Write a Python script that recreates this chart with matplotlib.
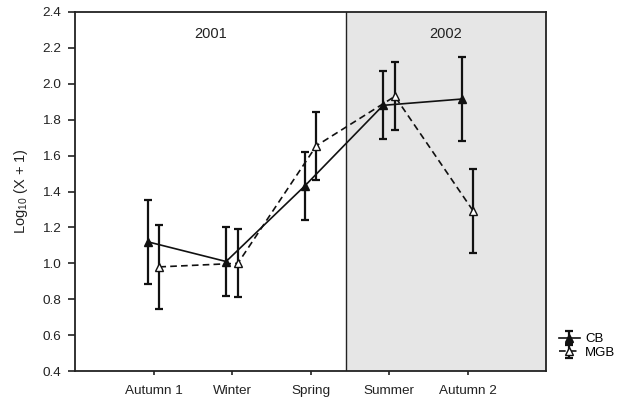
import matplotlib
matplotlib.use("Agg")
import matplotlib.pyplot as plt
from matplotlib.patches import Rectangle
import numpy as np

plt.rcParams['font.family'] = ['Liberation Sans', 'DejaVu Sans']

seasons = ["Autumn 1", "Winter", "Spring", "Summer", "Autumn 2"]
cb_mean = [1.12, 1.01, 1.43, 1.88, 1.915]
cb_err = [0.235, 0.19, 0.19, 0.19, 0.235]
mgb_mean = [0.98, 1.00, 1.655, 1.93, 1.29]
mgb_err = [0.235, 0.19, 0.19, 0.19, 0.235]
year_labels = ["2001", "2002"]
y_ticks = [0.4, 0.6, 0.8, 1.0, 1.2, 1.4, 1.6, 1.8, 2.0, 2.2, 2.4]

fig = plt.figure(figsize=(6.22, 4.01), dpi=100)
ax = fig.add_axes([75 / 622, 30 / 401, 471 / 622, 359 / 401])

x = np.arange(1, len(seasons) + 1)
shift = 0.075
split = 3.45

ax.add_patch(Rectangle((split, 0.4), 6 - split, 2.0, facecolor="#e6e6e6",
                       edgecolor="none", zorder=0))
ax.axvline(split, color="#222222", lw=1.0, zorder=1)

ax.text(split / 2, 2.28, year_labels[0], ha="center", va="center",
        fontsize=10.5, color="#222222")
ax.text((split + 6) / 2, 2.28, year_labels[1], ha="center", va="center",
        fontsize=10.5, color="#222222")

cb = ax.errorbar(x - shift, cb_mean, yerr=cb_err, color="#111111", lw=1.2,
                 elinewidth=1.6, capsize=3.2, capthick=1.6, marker="^",
                 markersize=5.8, markerfacecolor="#111111",
                 markeredgecolor="#111111", zorder=3, label="CB")
mgb = ax.errorbar(x + shift, mgb_mean, yerr=mgb_err, color="#111111", lw=1.2,
                  elinewidth=1.6, capsize=3.2, capthick=1.6, marker="^",
                  markersize=5.8, markerfacecolor="white",
                  markeredgecolor="#111111", ls=(0, (4, 2.5)), zorder=3,
                  label="MGB")

ax.set_xlim(0, 6)
ax.set_ylim(0.4, 2.4)
ax.set_xticks(x)
ax.set_xticklabels(seasons)
ax.set_yticks(y_ticks)
ax.set_yticklabels([f"{v:.1f}" for v in y_ticks])
ax.tick_params(axis="both", direction="out", width=1.2,
               labelsize=9.7, colors="#222222", labelcolor="#222222")
ax.tick_params(axis="y", length=5, pad=5)
ax.tick_params(axis="x", length=3, pad=7)
for s in ax.spines.values():
    s.set_linewidth(1.3)
    s.set_color("#222222")

ax.set_ylabel(r"Log$_{\mathregular{10}}$ (X + 1)", fontsize=10.5,
              color="#222222", labelpad=9)

fig.legend(handles=[cb, mgb], labels=["CB", "MGB"], loc="center left",
           bbox_to_anchor=(551 / 622, 1 - 346 / 401), frameon=False,
           fontsize=9.5, handlelength=1.6, handletextpad=0.4,
           labelspacing=0.1, borderpad=0.1)

fig.savefig("out.png", dpi=100)
